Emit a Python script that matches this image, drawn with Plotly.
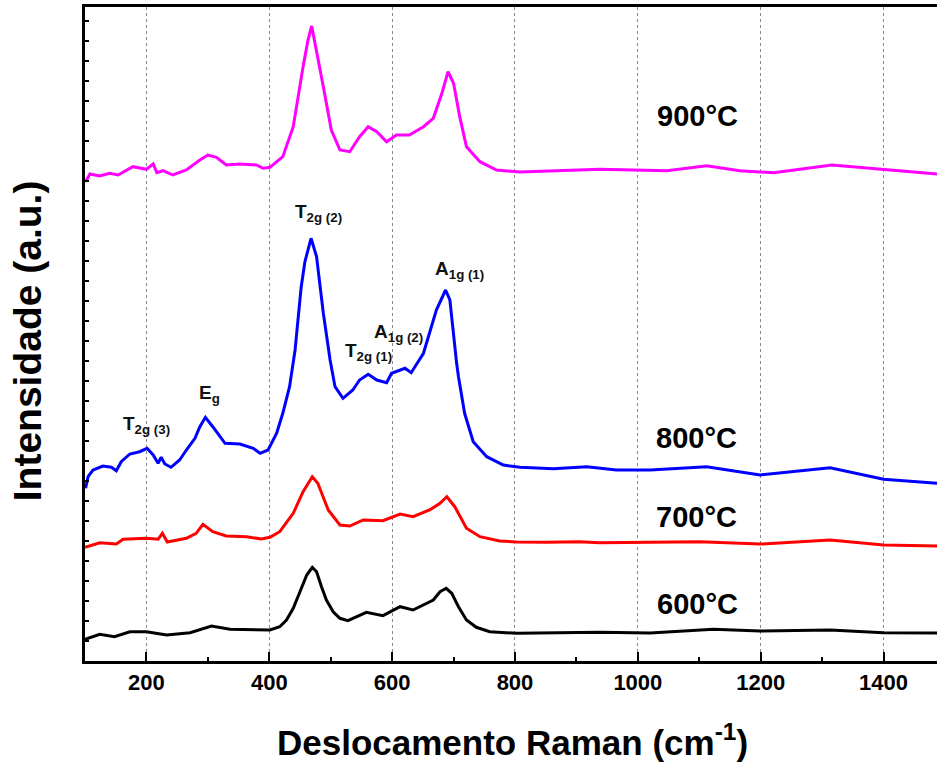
import plotly.graph_objects as go

# Raman shift (cm-1) and intensity (a.u.)
x_600 = [100, 124, 148, 173, 200, 233, 271, 306, 336, 374, 401, 417, 428, 439, 450, 461, 470, 477, 485,
         493, 504, 515, 528, 558, 585, 613, 634, 667, 678, 688, 697, 708, 721, 737, 759, 803, 938, 1020,
         1123, 1199, 1313, 1400, 1487]
y_600 = [21.7, 26.7, 24.3, 29.3, 29.3, 26, 28.3, 35, 31.7, 31, 31, 34.3, 41, 52.7, 69.3, 86, 93.7, 89.3, 74.3,
         61, 49.3, 42.7, 40.3, 48.7, 45.3, 54.3, 51, 61, 69.3, 72.7, 67.7, 54.3, 41, 33.7, 29.3, 27.7, 28.7, 28,
         31.7, 30, 31, 28.3, 28]

x_700 = [100, 124, 151, 162, 200, 219, 226, 234, 265, 281, 292, 308, 330, 363, 387, 401, 417, 439, 455, 470,
         479, 496, 515, 531, 553, 585, 613, 634, 661, 678, 689, 702, 721, 743, 775, 803, 851, 905, 938, 1101,
         1199, 1313, 1400, 1487]
y_700 = [113.7, 118.3, 117, 121.7, 122.7, 121.7, 127.7, 119, 122.7, 127.7, 136.7, 129.3, 125, 124.3, 122, 123.7,
         129.3, 147.7, 169.3, 184.3, 177.7, 151, 136, 135, 141, 140.3, 147, 144.3, 151, 157.7, 164.3, 154.3, 132.7,
         124.3, 120, 119, 118.7, 119.3, 118.3, 119.3, 117, 121, 116, 115]

x_800 = [101, 105, 113, 129, 143, 151, 159, 173, 189, 201, 211, 219, 224, 230, 240, 254, 265, 279, 287, 296,
         308, 328, 352, 374, 385, 398, 412, 422, 433, 442, 452, 458, 468, 477, 488, 499, 507, 520, 536, 547,
         561, 575, 591, 599, 621, 631, 651, 672, 687, 694, 705, 708, 718, 732, 754, 781, 808, 862, 917, 965,
         1020, 1112, 1199, 1313, 1400, 1487]
y_800 = [172.7, 184.3, 191, 195, 193.7, 190.3, 199.3, 207, 209.3, 212.7, 206, 197.7, 203.7, 197, 193.7, 201, 211,
         222.7, 234.3, 243.7, 234.3, 217.7, 217, 212.7, 207.7, 211, 227.7, 247.7, 274.3, 311, 374.3, 399.3, 422.7,
         404.3, 347.7, 301, 274.3, 262.7, 271, 281, 286.7, 281, 278.3, 287.7, 292.7, 288.3, 307.7, 351, 371, 361,
         297.7, 284.3, 247.7, 219.3, 204.3, 196, 193.7, 192.3, 194.3, 191, 191, 194.3, 186, 193.3, 181.7, 177.7]

x_900 = [101, 108, 124, 140, 154, 178, 200, 211, 217, 227, 243, 265, 287, 300, 314, 330, 352, 379, 390, 401,
         422, 439, 455, 463, 469, 477, 488, 501, 515, 531, 547, 561, 575, 591, 607, 628, 651, 667, 681, 691,
         700, 710, 721, 743, 770, 808, 873, 938, 1047, 1112, 1166, 1221, 1316, 1400, 1487]
y_900 = [479.3, 487, 485, 487.7, 486, 494.3, 491.7, 497, 488.3, 490.3, 486, 491, 501, 506, 503.7, 496, 497, 496,
         492.7, 493.7, 504.3, 534.3, 594.3, 621, 635, 611, 574.3, 531, 511, 509.3, 524.3, 534.3, 529.3, 519.3,
         526, 526, 534.3, 542.7, 567.7, 589.3, 577.7, 544.3, 514.3, 499.3, 491, 489, 490, 491.7, 490.3, 495.3,
         490.3, 488.3, 496, 491.7, 487]

series_names = ["600°C", "700°C", "800°C", "900°C"]
series_colors = ["#000000", "#FF0000", "#0000FF", "#FF00FF"]

# Peak-assignment labels: (text, x, y)
peak_labels = ["T<sub>2g (3)</sub>", "E<sub>g</sub>", "T<sub>2g (2)</sub>",
               "T<sub>2g (1)</sub>", "A<sub>1g (2)</sub>", "A<sub>1g (1)</sub>"]
peak_x = [158, 283, 438, 520, 568, 666]
peak_y = [236, 267, 448, 309, 328, 391]

temp_x = [1097, 1096, 1096, 1097]
temp_y = [57, 144, 223.5, 545]

FONT = "Liberation Sans, Arial, sans-serif"

fig = go.Figure()
for xs, ys, name, col in zip([x_600, x_700, x_800, x_900], [y_600, y_700, y_800, y_900],
                             series_names, series_colors):
    fig.add_trace(go.Scatter(x=xs, y=ys, mode="lines", name=name,
                             line=dict(color=col, width=3), showlegend=False))

annotations = []
for t, xv, yv in zip(peak_labels, peak_x, peak_y):
    annotations.append(dict(x=xv, y=yv, xref="x", yref="y", text="<b>" + t + "</b>", showarrow=False,
                            xanchor="left", yanchor="middle", font=dict(family=FONT, size=19, color="#111")))
for t, xv, yv in zip(series_names, temp_x, temp_y):
    annotations.append(dict(x=xv, y=yv, xref="x", yref="y", text="<b>" + t + "</b>", showarrow=False,
                            xanchor="center", yanchor="middle", font=dict(family=FONT, size=29, color="#000")))

annotations.append(dict(x=0.502, y=-0.121, xref="paper", yref="paper",
                        text="<b>Deslocamento Raman (cm<sup>-1</sup>)</b>", showarrow=False,
                        xanchor="center", yanchor="middle", font=dict(family=FONT, size=35, color="#000")))
annotations.append(dict(x=-0.068, y=0.489, xref="paper", yref="paper", textangle=-90,
                        text="<b>Intensidade (a.u.)</b>", showarrow=False,
                        xanchor="center", yanchor="middle", font=dict(family=FONT, size=39, color="#000")))

fig.update_layout(
    width=937, height=770,
    margin=dict(l=85, r=0, t=7, b=109),
    plot_bgcolor="white", paper_bgcolor="white",
    annotations=annotations,
    xaxis=dict(range=[100, 1487], tick0=0, dtick=200, ticks="inside", ticklen=9, tickwidth=2,
               tickcolor="black", showline=True, linewidth=2.5, linecolor="black", mirror=True,
               showgrid=True, gridcolor="#888888", griddash="dot", gridwidth=1, zeroline=False,
               tickfont=dict(family=FONT, size=22, color="black"), tickprefix="<b>", ticksuffix="</b>",
               minor=dict(ticks="inside", ticklen=4, dtick=100, tickcolor="black", tickwidth=1.5,
                          showgrid=False)),
    yaxis=dict(range=[0, 654], showticklabels=False, ticks="inside", dtick=20, ticklen=4, tickwidth=1.5,
               tickcolor="black", showline=True, linewidth=2.5, linecolor="black", mirror=False,
               showgrid=False, zeroline=False),
)

fig.write_html("out.html", config={"displayModeBar": False},
               post_script="document.body.style.margin='0';document.body.style.overflow='hidden';")
